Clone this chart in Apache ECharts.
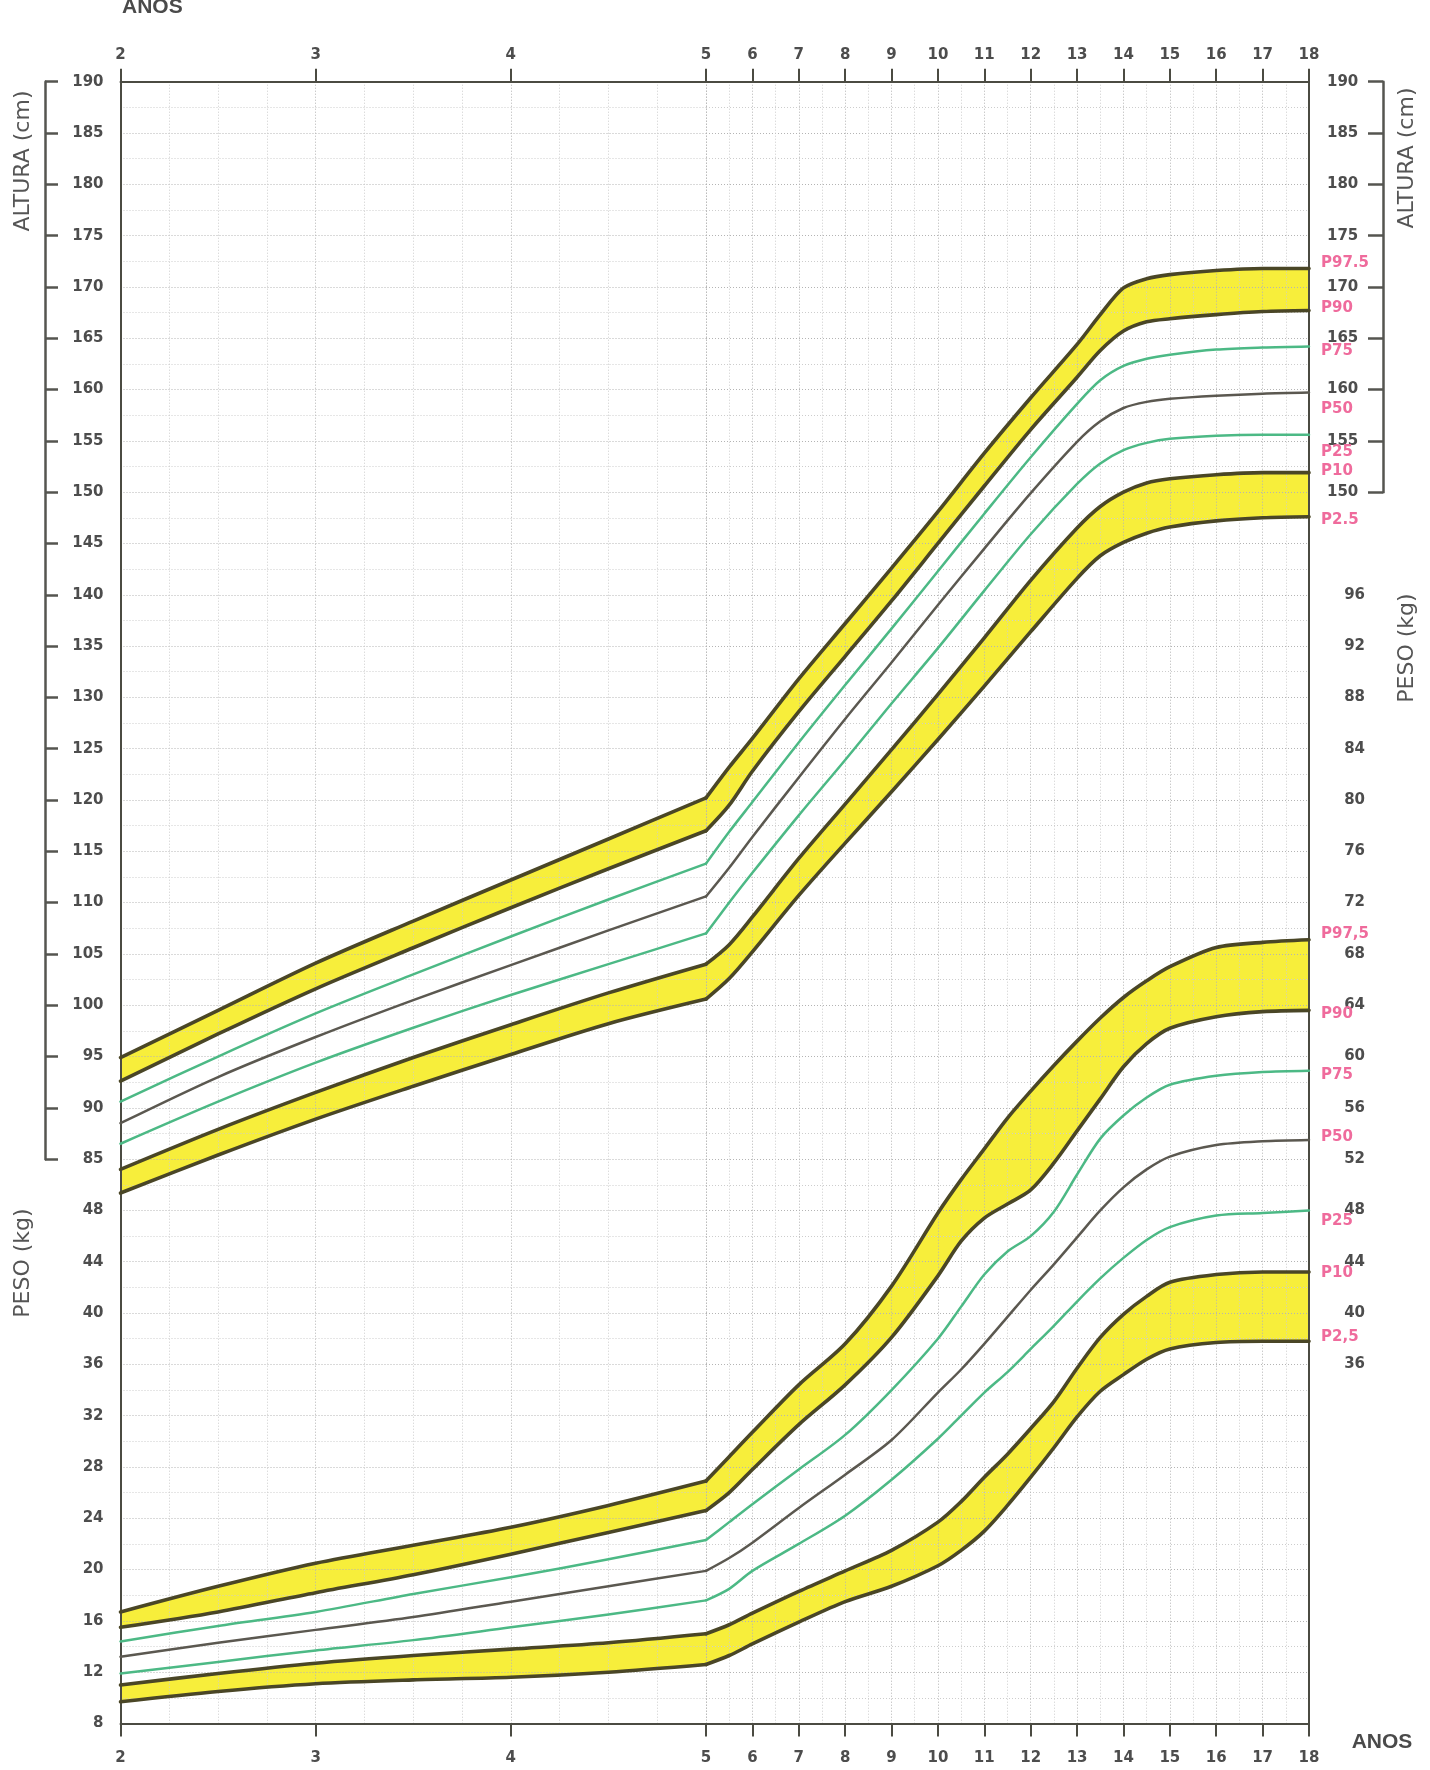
<!DOCTYPE html>
<html>
<head>
<meta charset="utf-8">
<script src="https://cdn.jsdelivr.net/npm/echarts@6/dist/echarts.min.js"></script>
<style>
  html, body { margin: 0; padding: 0; background: #ffffff; }
  #chart { width: 1430px; height: 1770px; }
</style>
</head>
<body>
<div id="chart"></div>
<script>
// ---- Ages (years) at which the percentile curves are sampled ----
const agesHeight = [2, 2.5, 3, 3.5, 4, 4.5, 5, 5.5, 6, 7, 8, 9, 10, 11, 12, 13, 13.5, 14, 14.5, 15, 16, 17, 18];
const agesWeight = [2, 2.5, 3, 3.5, 4, 4.5, 5, 5.5, 6, 7, 8, 9, 10, 10.5, 11, 11.5, 12, 12.5, 13, 13.5, 14, 14.5, 15, 16, 17, 18];

// ---- Height (cm) percentiles ----
const heightP97_5 = [94.9, 99.5, 104.1, 108.2, 112.2, 116.2, 120.2, 123.2, 126.0, 131.8, 137.2, 142.6, 148.1, 153.8, 159.2, 164.4, 167.3, 169.9, 170.8, 171.2, 171.6, 171.8, 171.8];
const heightP90   = [92.6, 97.2, 101.6, 105.6, 109.5, 113.3, 117.0, 119.5, 122.8, 128.6, 134.0, 139.4, 145.0, 150.6, 156.1, 161.2, 163.8, 165.7, 166.6, 166.9, 167.3, 167.6, 167.7];
const heightP75   = [90.6, 95.0, 99.2, 103.0, 106.7, 110.3, 113.8, 116.9, 119.8, 125.6, 131.2, 136.7, 142.3, 147.9, 153.4, 158.6, 160.9, 162.3, 163.0, 163.4, 163.9, 164.1, 164.2];
const heightP50   = [88.5, 93.0, 96.9, 100.5, 103.9, 107.3, 110.6, 113.4, 116.4, 122.2, 127.9, 133.4, 139.0, 144.5, 149.9, 154.9, 156.9, 158.2, 158.8, 159.1, 159.4, 159.6, 159.7];
const heightP25   = [86.5, 90.6, 94.4, 97.8, 101.0, 104.0, 107.0, 110.0, 112.9, 118.5, 123.9, 129.4, 134.8, 140.4, 145.9, 150.8, 152.8, 154.1, 154.8, 155.2, 155.5, 155.6, 155.6];
const heightP10   = [84.0, 87.9, 91.5, 94.9, 98.1, 101.2, 104.0, 105.9, 108.6, 114.3, 119.6, 124.9, 130.3, 135.8, 141.4, 146.5, 148.6, 150.0, 150.9, 151.3, 151.7, 151.9, 151.9];
const heightP2_5  = [81.7, 85.4, 88.9, 92.1, 95.2, 98.2, 100.6, 102.6, 105.2, 110.7, 115.8, 120.8, 125.9, 131.1, 136.4, 141.6, 143.8, 145.1, 146.0, 146.6, 147.2, 147.5, 147.6];

// ---- Weight (kg) percentiles ----
const weightP97_5 = [16.7, 18.7, 20.5, 21.9, 23.3, 25.0, 26.9, 28.8, 30.7, 34.4, 37.6, 42.1, 47.8, 50.4, 52.8, 55.2, 57.3, 59.3, 61.2, 63.0, 64.6, 65.9, 67.0, 68.5, 68.9, 69.1];
const weightP90   = [15.5, 16.7, 18.2, 19.6, 21.2, 22.9, 24.6, 26.0, 27.8, 31.3, 34.4, 38.1, 42.9, 45.6, 47.4, 48.5, 49.6, 51.7, 54.2, 56.7, 59.2, 61.0, 62.2, 63.1, 63.5, 63.6];
const weightP75   = [14.4, 15.6, 16.7, 18.1, 19.4, 20.8, 22.3, 23.7, 25.1, 27.8, 30.5, 34.0, 38.0, 40.5, 43.0, 44.8, 46.0, 47.9, 50.8, 53.6, 55.4, 56.8, 57.8, 58.5, 58.8, 58.9];
const weightP50   = [13.2, 14.3, 15.3, 16.3, 17.5, 18.7, 19.9, 20.9, 22.1, 24.8, 27.4, 30.1, 33.8, 35.6, 37.6, 39.7, 41.8, 43.8, 45.9, 48.0, 49.8, 51.2, 52.2, 53.1, 53.4, 53.5];
const weightP25   = [11.9, 12.8, 13.7, 14.5, 15.5, 16.5, 17.6, 18.5, 19.9, 22.0, 24.2, 27.0, 30.2, 32.0, 33.8, 35.4, 37.2, 39.0, 40.9, 42.7, 44.3, 45.7, 46.7, 47.6, 47.8, 48.0];
const weightP10   = [11.0, 11.9, 12.7, 13.3, 13.8, 14.3, 15.0, 15.7, 16.6, 18.3, 19.9, 21.5, 23.7, 25.3, 27.2, 29.0, 31.0, 33.1, 35.7, 38.1, 39.9, 41.3, 42.4, 43.0, 43.2, 43.2];
const weightP2_5  = [9.7, 10.5, 11.1, 11.4, 11.6, 12.0, 12.6, 13.3, 14.2, 15.9, 17.5, 18.7, 20.3, 21.5, 23.0, 25.0, 27.2, 29.5, 31.9, 33.9, 35.2, 36.4, 37.2, 37.7, 37.8, 37.8];

// ---- Curve names printed at the right end ----
const heightLabels = ['P97.5', 'P90', 'P75', 'P50', 'P25', 'P10', 'P2.5'];
const weightLabels = ['P97,5', 'P90', 'P75', 'P50', 'P25', 'P10', 'P2,5'];

// ---- Styling ----
const heightLabelDy = [-5, -2.5, 5, 16, 17, -1.5, 3];
const weightLabelDy = [-5.5, 3.5, 4, -3, 11, 1, -4];
const lineKinds = ['edge', 'edge', 'green', 'median', 'green', 'edge', 'edge'];
const LINE_STYLES = {
  edge:   { color: '#4a4626', width: 3.6 },
  green:  { color: '#4cb985', width: 2.5 },
  median: { color: '#5b5850', width: 2.5 }
};
const YELLOW = '#f7ee3b';
const PINK = '#ef6b9c';
const AXIS_COLOR = '#4b4b42';
const TEXT_COLOR = '#4d4d4d';
const GRID_MAJOR = '#b4b4b4';
const GRID_MINOR = '#cdcdcd';
const SMOOTH = 0.3;
const NUM_FONT = { fontFamily: 'DejaVu Sans', fontWeight: 'bold', fontSize: 15, color: TEXT_COLOR };

// Plot area geometry: ages 2-5 are drawn on a wider scale than ages 5-18
const PLOT_TOP = 81.7;
const PLOT_H = 1641.8;
const UNIT = PLOT_H / 64;          // one minor grid row (2.5 cm / 2 kg)
const X_LEFT = 120.5, X_MID = 706, X_RIGHT = 1309;

const heightSets = [heightP97_5, heightP90, heightP75, heightP50, heightP25, heightP10, heightP2_5];
const weightSets = [weightP97_5, weightP90, weightP75, weightP50, weightP25, weightP10, weightP2_5];

function pairs(ages, vals, early) {
  const out = [];
  ages.forEach((a, i) => { if (early ? a <= 5 : a >= 5) out.push([a, vals[i]]); });
  return out;
}

function xAxisDef(grid, pos, min, max, minorSplit, hideFive) {
  return {
    type: 'value', gridIndex: grid, position: pos, min: min, max: max, interval: 1, z: 2,
    axisLine: { show: true, onZero: false, lineStyle: { color: AXIS_COLOR, width: 2 } },
    axisTick: { show: true, length: 13, lineStyle: { color: AXIS_COLOR, width: 2 } },
    axisLabel: Object.assign({
      show: true, margin: pos === 'top' ? 19 : 27,
      formatter: v => (hideFive && v === 5) ? '' : String(v)
    }, NUM_FONT),
    splitLine: { show: pos === 'bottom', lineStyle: { color: GRID_MAJOR, type: [1, 2], width: 1 } },
    minorTick: { show: false, splitNumber: minorSplit },
    minorSplitLine: { show: pos === 'bottom', lineStyle: { color: GRID_MINOR, type: [1, 2], width: 1 } }
  };
}

function yAxisDef(grid, pos, min, max, interval, showFrame, grids, labelFilter, labelExtra) {
  return {
    type: 'value', gridIndex: grid, position: pos, min: min, max: max, interval: interval, z: 2,
    axisLine: { show: showFrame, lineStyle: { color: AXIS_COLOR, width: 2 } },
    axisTick: { show: false },
    axisLabel: Object.assign({
      show: true, margin: 17,
      formatter: v => labelFilter(v) ? String(v) : ''
    }, NUM_FONT, labelExtra || {}),
    splitLine: { show: grids, lineStyle: { color: GRID_MAJOR, type: [1, 2], width: 1 } },
    minorTick: { show: false, splitNumber: 2 },
    minorSplitLine: { show: grids, lineStyle: { color: GRID_MINOR, type: [1, 2], width: 1 } }
  };
}

// Side brackets: a left-positioned axis whose ticks point right (inside) or left (outside)
function bracketAxis(grid, min, max, tickLen, inside) {
  return {
    type: 'value', gridIndex: grid, position: 'left', min: min, max: max, interval: 5, z: 2,
    axisLine: { show: true, lineStyle: { color: '#555550', width: 2.5 } },
    axisTick: { show: true, inside: inside, length: tickLen, lineStyle: { color: '#555550', width: 2.5 } },
    axisLabel: { show: false },
    splitLine: { show: false }
  };
}

const metrics = [
  { ages: agesHeight, sets: heightSets, labels: heightLabels, dy: heightLabelDy, yEarly: 0, yLate: 2 },
  { ages: agesWeight, sets: weightSets, labels: weightLabels, dy: weightLabelDy, yEarly: 1, yLate: 3 }
];

function areaSeries(m, idx, early, color) {
  return {
    type: 'line', xAxisIndex: early ? 0 : 2, yAxisIndex: early ? m.yEarly : m.yLate,
    data: pairs(m.ages, m.sets[idx], early),
    smooth: SMOOTH, symbol: 'none', silent: true,
    lineStyle: { width: 0, opacity: 0 },
    areaStyle: { color: color, opacity: 1, origin: 'start' },
    z: 1
  };
}

function curveSeries(m, idx, early) {
  const st = LINE_STYLES[lineKinds[idx]];
  const s = {
    type: 'line', xAxisIndex: early ? 0 : 2, yAxisIndex: early ? m.yEarly : m.yLate,
    data: pairs(m.ages, m.sets[idx], early),
    smooth: SMOOTH, symbol: 'none', silent: true, clip: false,
    lineStyle: { color: st.color, width: st.width, cap: 'round', join: 'round' },
    z: 3
  };
  if (!early) {
    s.endLabel = {
      show: true, formatter: m.labels[idx], distance: 12, offset: [0, m.dy[idx]],
      color: PINK, fontFamily: 'DejaVu Sans', fontWeight: 'bold', fontSize: 15
    };
  }
  return s;
}

const series = [];
// Yellow bands: fill from the upper edge down, then cover from the lower edge down.
metrics.forEach(m => {
  [[0, 1], [5, 6]].forEach(([hi, lo]) => {
    [true, false].forEach(early => {
      series.push(areaSeries(m, hi, early, YELLOW));
      series.push(areaSeries(m, lo, early, '#ffffff'));
    });
  });
});
metrics.forEach(m => {
  for (let i = 0; i < 7; i++) {
    series.push(curveSeries(m, i, true));
    series.push(curveSeries(m, i, false));
  }
});

const titleFont = { fontFamily: 'DejaVu Sans', fontSize: 22, fill: '#555555' };

const option = {
  animation: false,
  backgroundColor: '#ffffff',
  grid: [
    { left: X_LEFT, top: PLOT_TOP, width: X_MID - X_LEFT, height: PLOT_H, outerBoundsMode: 'none' },
    { left: X_MID, top: PLOT_TOP, width: X_RIGHT - X_MID, height: PLOT_H, outerBoundsMode: 'none' },
    { left: 45, top: PLOT_TOP, width: 10, height: UNIT * 42, outerBoundsMode: 'none' },
    { left: 1383, top: PLOT_TOP, width: 10, height: UNIT * 16, outerBoundsMode: 'none' }
  ],
  xAxis: [
    xAxisDef(0, 'bottom', 2, 5, 4, true),
    xAxisDef(0, 'top', 2, 5, 4, true),
    xAxisDef(1, 'bottom', 5, 18, 2, false),
    xAxisDef(1, 'top', 5, 18, 2, false),
    { type: 'value', gridIndex: 2, show: false, min: 0, max: 1 },
    { type: 'value', gridIndex: 3, show: false, min: 0, max: 1 }
  ],
  yAxis: [
    yAxisDef(0, 'left', 30, 190, 5, true, true, v => v >= 85),
    yAxisDef(0, 'left', 8, 136, 4, false, false, v => v <= 48),
    yAxisDef(1, 'right', 30, 190, 5, true, true, v => v >= 150, { margin: 18 }),
    yAxisDef(1, 'right', 8, 136, 4, false, false, v => v >= 36 && v <= 96, { margin: 56, align: 'right' }),
    bracketAxis(2, 85, 190, 13, true),
    bracketAxis(3, 150, 190, 15, false)
  ],
  graphic: [
    { type: 'text', x: 122, y: 7, style: { text: 'ANOS', fontFamily: 'Liberation Sans', fontWeight: 'bold', fontSize: 21, fill: '#4a4a4a', align: 'left', verticalAlign: 'middle' } },
    { type: 'text', x: 1382, y: 1742, style: { text: 'ANOS', fontFamily: 'Liberation Sans', fontWeight: 'bold', fontSize: 21, fill: '#4a4a4a', align: 'center', verticalAlign: 'middle' } },
    { type: 'text', x: 23, y: 161, rotation: Math.PI / 2, style: Object.assign({ text: 'ALTURA (cm)', align: 'center', verticalAlign: 'middle' }, titleFont) },
    { type: 'text', x: 1407, y: 158, rotation: Math.PI / 2, style: Object.assign({ text: 'ALTURA (cm)', align: 'center', verticalAlign: 'middle' }, titleFont) },
    { type: 'text', x: 23, y: 1263, rotation: Math.PI / 2, style: Object.assign({ text: 'PESO (kg)', align: 'center', verticalAlign: 'middle' }, titleFont) },
    { type: 'text', x: 1407, y: 648, rotation: Math.PI / 2, style: Object.assign({ text: 'PESO (kg)', align: 'center', verticalAlign: 'middle' }, titleFont) }
  ],
  series: series
};

const chart = echarts.init(document.getElementById('chart'), null, { renderer: 'canvas' });
chart.setOption(option);
</script>
</body>
</html>
